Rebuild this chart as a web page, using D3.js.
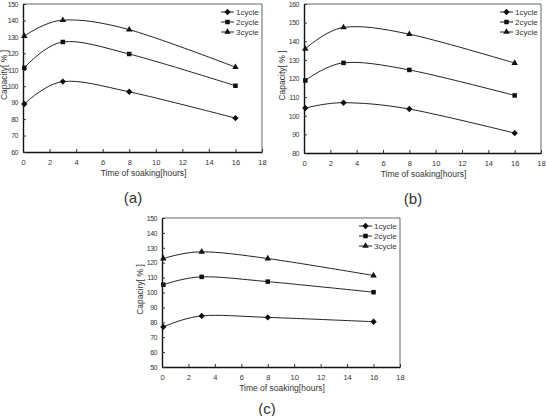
<!DOCTYPE html>
<html>
<head>
<meta charset="utf-8">
<script src="https://cdn.jsdelivr.net/npm/d3@7"></script>
<style>
  body { margin: 0; background: #fff; }
  svg { display: block; }
  text { font-family: Arial, "Liberation Sans", sans-serif; fill: #333; }
</style>
</head>
<body>
<script>
const W = 546
const H = 416

// soaking time (hours)
const hours = [0.1, 3, 8, 16]
const xTicks = [0, 2, 4, 6, 8, 10, 12, 14, 16, 18]
const cycles = ['1cycle', '2cycle', '3cycle']

// capacity [%] per panel, one array per cycle
const capA1 = [89.2, 102.8, 96.6, 80.6]
const capA2 = [111.2, 126.9, 119.6, 100.3]
const capA3 = [130.5, 140.2, 134.4, 111.6]

const capB1 = [104.1, 107.0, 103.6, 90.7]
const capB2 = [118.9, 128.4, 124.6, 110.9]
const capB3 = [135.9, 147.4, 143.8, 128.3]

const capC1 = [76.9, 84.3, 83.3, 80.4]
const capC2 = [105.2, 110.5, 107.3, 100.2]
const capC3 = [122.8, 127.3, 122.8, 111.4]

const panels = [
  { tag: '(a)', yLabel: 'Capacity[ % ]', yDomain: [60, 150], series: [capA1, capA2, capA3],
    box: { l: 23, r: 262, t: 4, b: 152 }, ylx: 7, cap: { x: 133, y: 203 } },
  { tag: '(b)', yLabel: 'Capacity[ % ]', yDomain: [80, 160], series: [capB1, capB2, capB3],
    box: { l: 304, r: 541, t: 4, b: 153 }, ylx: 285, cap: { x: 413, y: 204 } },
  { tag: '(c)', yLabel: 'Capaciry[ % ]', yDomain: [50, 150], series: [capC1, capC2, capC3],
    box: { l: 162, r: 400, t: 218, b: 367 }, ylx: 143, cap: { x: 267, y: 414 } }
]

const svg = d3.select('body').append('svg')
  .attr('width', W)
  .attr('height', H)

const symbols = [
  d3.symbol().type(d3.symbolDiamond2).size(26),
  d3.symbol().type(d3.symbolSquare2).size(26),
  d3.symbol().type(d3.symbolTriangle2).size(30)
]

panels.forEach(p => drawPanel(p))

function drawPanel (p) {
  const b = p.box
  const g = svg.append('g')

  const x = d3.scaleLinear().domain([0, 18]).range([b.l, b.r])
  const y = d3.scaleLinear().domain(p.yDomain).range([b.b, b.t])

  // frame (top and right lighter)
  g.append('line').attr('x1', b.l).attr('x2', b.r).attr('y1', b.t).attr('y2', b.t)
    .attr('stroke', '#666').attr('stroke-width', 1)
  g.append('line').attr('x1', b.r).attr('x2', b.r).attr('y1', b.t).attr('y2', b.b)
    .attr('stroke', '#666').attr('stroke-width', 1)

  // x axis, ticks pointing in
  const xAxis = d3.axisBottom(x).tickValues(xTicks).tickSizeInner(-3).tickSizeOuter(0).tickPadding(8)
  const gx = g.append('g').attr('transform', 'translate(0,' + b.b + ')').call(xAxis)
  gx.select('.domain').attr('stroke', '#111').attr('stroke-width', 1.4)
  gx.selectAll('.tick line').attr('stroke', '#333')
  gx.selectAll('text').attr('font-size', 7.5).attr('fill', '#444').attr('font-family', 'Arial, sans-serif')

  const yAxis = d3.axisLeft(y).ticks((p.yDomain[1] - p.yDomain[0]) / 10).tickSizeInner(-3).tickSizeOuter(0).tickPadding(5)
  const gy = g.append('g').attr('transform', 'translate(' + b.l + ',0)').call(yAxis)
  gy.select('.domain').attr('stroke', '#111').attr('stroke-width', 1.4)
  gy.selectAll('.tick line').attr('stroke', '#333')
  gy.selectAll('text').attr('font-size', 7).attr('letter-spacing', -0.5)
    .attr('fill', '#444').attr('font-family', 'Arial, sans-serif')

  // axis titles
  g.append('text')
    .attr('x', (b.l + b.r) / 2 + 1)
    .attr('y', b.b + 24)
    .attr('text-anchor', 'middle')
    .attr('font-size', 8.5)
    .text('Time of soaking[hours]')

  g.append('text')
    .attr('transform', 'translate(' + p.ylx + ',' + ((b.t + b.b) / 2 - 3) + ') rotate(-90)')
    .attr('text-anchor', 'middle')
    .attr('font-size', 8.5)
    .text(p.yLabel)

  // curves
  const line = d3.line()
    .x((d, i) => x(hours[i]))
    .y(d => y(d))
    .curve(d3.curveCardinal.tension(0))

  p.series.forEach((s, k) => {
    g.append('path')
      .attr('d', line(s))
      .attr('fill', 'none')
      .attr('stroke', '#222')
      .attr('stroke-width', 1)

    g.selectAll('.m' + k)
      .data(s)
      .join('path')
      .attr('class', 'm' + k)
      .attr('transform', (d, i) => 'translate(' + x(hours[i]) + ',' + y(d) + ')')
      .attr('d', symbols[k])
      .attr('fill', '#111')
  })

  // legend
  cycles.forEach((c, k) => {
    const ly = b.t + 8 + k * 10
    const lx = b.r - 41
    g.append('line').attr('x1', lx).attr('x2', lx + 13).attr('y1', ly).attr('y2', ly)
      .attr('stroke', '#222').attr('stroke-width', 1)
    g.append('path')
      .attr('transform', 'translate(' + (lx + 6.5) + ',' + ly + ')')
      .attr('d', symbols[k])
      .attr('fill', '#111')
    g.append('text')
      .attr('x', lx + 15)
      .attr('y', ly + 3)
      .attr('font-size', 8)
      .attr('fill', '#444')
      .text(c)
  })

  // panel caption
  svg.append('text')
    .attr('x', p.cap.x)
    .attr('y', p.cap.y)
    .attr('text-anchor', 'middle')
    .attr('font-size', 15)
    .attr('font-family', '"Liberation Serif", "DejaVu Serif", serif')
    .attr('fill', '#222')
    .text(p.tag)
}
</script>
</body>
</html>
